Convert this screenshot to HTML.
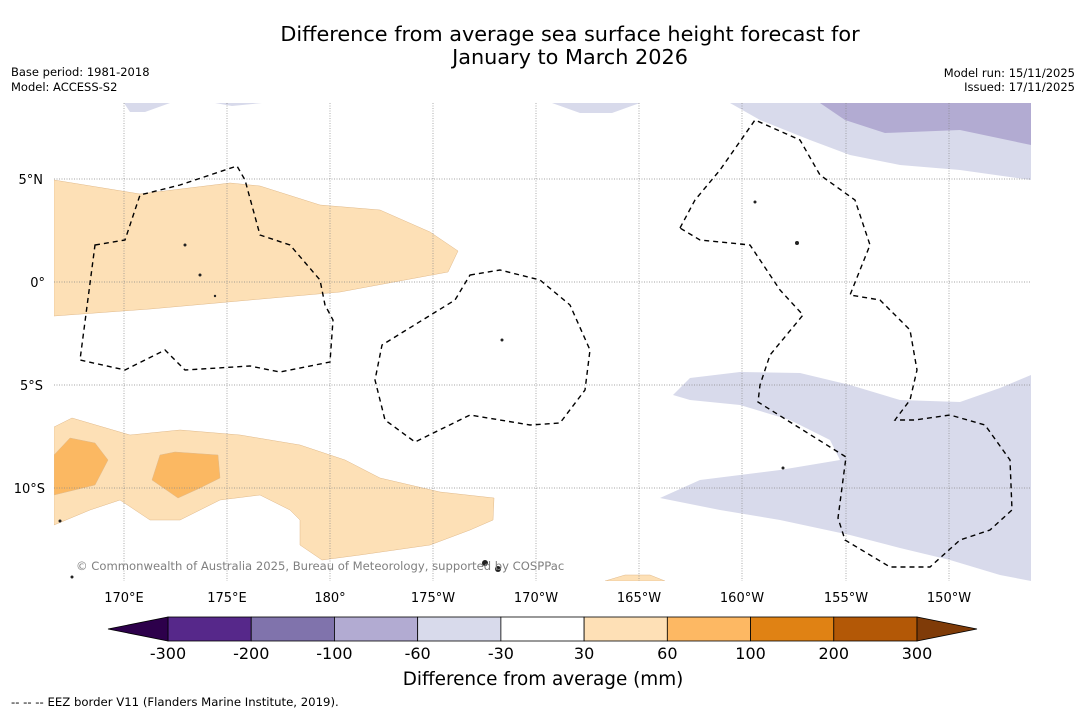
<!DOCTYPE html>
<html><head><meta charset="utf-8"><style>
body{margin:0;background:#fff;font-family:"DejaVu Sans",sans-serif}
svg{display:block}
</style></head><body>
<svg width="1085" height="713" xmlns="http://www.w3.org/2000/svg" font-family="DejaVu Sans, sans-serif">
<text x="570" y="41" font-size="20.8" text-anchor="middle">Difference from average sea surface height forecast for</text>
<text x="570" y="64" font-size="20.8" text-anchor="middle">January to March 2026</text>
<text x="11" y="76" font-size="11.5">Base period: 1981-2018</text>
<text x="11" y="91" font-size="11.5">Model: ACCESS-S2</text>
<text x="1075" y="77" font-size="11.5" text-anchor="end">Model run: 15/11/2025</text>
<text x="1075" y="91" font-size="11.5" text-anchor="end">Issued: 17/11/2025</text>

<g>
<rect x="54" y="103" width="977" height="478" fill="#fff"/>
<clipPath id="mc"><rect x="54" y="103" width="977" height="478"/></clipPath>
<g clip-path="url(#mc)" stroke="#e0b98a" stroke-width="0.5">
<polygon fill="#fde0b6" points="54,180 140,194 230,183 260,186 320,205 380,210 430,232 458,251 448,272 340,292 250,300 150,309 54,316"/>
<polygon fill="#fde0b6" points="54,427 72,418 130,435 180,430 240,435 300,445 345,460 380,478 440,492 494,498 493,520 470,530 430,545 360,555 322,560 300,545 300,520 290,510 260,495 220,500 180,520 150,520 120,500 90,510 54,525"/>
<polygon fill="#fbb862" points="54,455 70,438 95,443 108,460 95,485 54,495"/>
<polygon fill="#fbb862" points="160,455 175,452 218,455 220,478 200,488 178,498 152,480"/>
<polygon fill="#fde0b6" points="605,581 625,575 650,575 665,581"/>
</g>
<g clip-path="url(#mc)" stroke="none">
<polygon fill="#d8daeb" points="124,103 130,112 145,112 170,103"/>
<polygon fill="#d8daeb" points="215,103 232,106 262,103"/>
<polygon fill="#d8daeb" points="552,103 580,113 612,113 640,103"/>
<polygon fill="#d8daeb" points="730,103 760,120 810,140 850,155 900,165 960,170 1031,180 1031,103"/>
<polygon fill="#b2abd2" points="820,103 845,120 885,133 960,130 1031,145 1031,103"/>
<polygon fill="#d8daeb" points="673,395 690,378 740,372 800,373 850,385 900,400 960,402 1000,388 1031,375 1031,581 1000,575 950,560 900,548 850,535 780,520 720,510 660,498 700,480 780,470 840,460 830,440 790,420 740,405 690,400"/>
</g>
<g stroke="#888" stroke-width="0.7" stroke-dasharray="1,1.5">
<line x1="124" y1="103" x2="124" y2="581"/><line x1="227" y1="103" x2="227" y2="581"/><line x1="330" y1="103" x2="330" y2="581"/><line x1="433" y1="103" x2="433" y2="581"/><line x1="536" y1="103" x2="536" y2="581"/><line x1="639" y1="103" x2="639" y2="581"/><line x1="742" y1="103" x2="742" y2="581"/><line x1="846" y1="103" x2="846" y2="581"/><line x1="949" y1="103" x2="949" y2="581"/>
<line x1="54" y1="179" x2="1031" y2="179"/><line x1="54" y1="282" x2="1031" y2="282"/><line x1="54" y1="385" x2="1031" y2="385"/><line x1="54" y1="488" x2="1031" y2="488"/>
</g>
<g fill="none" stroke="#000" stroke-width="1.4" stroke-dasharray="5,4" clip-path="url(#mc)">
<polygon points="95,245 125,240 140,195 180,185 237,166 245,180 260,235 290,245 320,280 325,305 333,320 330,362 280,372 250,366 185,370 165,350 125,370 80,360"/>
<polygon points="470,275 500,270 540,280 570,305 590,350 585,390 560,423 530,425 470,415 415,442 385,420 375,380 382,345 455,300"/>
<polygon points="680,228 695,200 720,170 755,120 800,140 820,175 855,200 870,245 850,295 880,300 910,330 917,370 910,400 895,420 915,420 950,415 985,425 1010,460 1012,510 990,530 960,540 930,567 890,567 845,540 838,518 846,457 758,402 760,385 770,355 803,315 780,290 750,245 700,240"/>
</g>
<g fill="#222">
<circle cx="185" cy="245" r="1.5"/><circle cx="200" cy="275" r="1.5"/><circle cx="215" cy="296" r="1.2"/><circle cx="502" cy="340" r="1.5"/><circle cx="755" cy="202" r="1.5"/><circle cx="797" cy="243" r="2"/><circle cx="783" cy="468" r="1.5"/><circle cx="485" cy="563" r="3"/><circle cx="498" cy="569" r="3"/><circle cx="60" cy="521" r="1.5"/><circle cx="72" cy="577" r="1.5"/>
</g>
<text x="76" y="570" font-size="11.6" fill="#808080">© Commonwealth of Australia 2025, Bureau of Meteorology, supported by COSPPac</text>
</g>

<g font-size="13" text-anchor="end">
<text x="43" y="184">5°N</text><text x="45" y="287">0°</text><text x="43" y="390">5°S</text><text x="45" y="493">10°S</text>
</g>
<g font-size="13" text-anchor="middle">
<text x="124" y="602">170°E</text><text x="227" y="602">175°E</text><text x="330" y="602">180°</text><text x="433" y="602">175°W</text><text x="536" y="602">170°W</text><text x="639" y="602">165°W</text><text x="742" y="602">160°W</text><text x="846" y="602">155°W</text><text x="949" y="602">150°W</text>
</g>

<g id="cbar"></g>
<text x="543" y="685" font-size="18.4" text-anchor="middle">Difference from average (mm)</text>
<text x="11" y="706" font-size="11.7">--  --  -- EEZ border V11 (Flanders Marine Institute, 2019).</text>
</svg>
<script>
const levels = [-300,-200,-100,-60,-30,30,60,100,200,300];
const colors = ["#56288a","#8073ac","#b2abd2","#d8daeb","#ffffff","#fee0b6","#fdb863","#e08214","#b35806"];
const extendColors = ["#2d004b","#7f3b08"];
const NS="http://www.w3.org/2000/svg";
const g=document.getElementById('cbar');
const x0=168,x1=917,y0=617,h=24;
const sx=i=>x0+(x1-x0)*i/(levels.length-1);
function mk(t,a){const e=document.createElementNS(NS,t);for(const k in a)e.setAttribute(k,a[k]);g.appendChild(e);return e;}
colors.forEach((c,i)=>{
 const r=mk('rect',{x:sx(i),y:y0,width:sx(i+1)-sx(i),height:h,fill:c,stroke:'#000','stroke-width':0.8});
 
 
});
const l=mk('polygon',{points:`${x0},${y0} ${x0},${y0+h} 108,${y0+h/2}`,fill:extendColors[0],stroke:'#000','stroke-width':0.8});


const r=mk('polygon',{points:`${x1},${y0} ${x1},${y0+h} 977,${y0+h/2}`,fill:extendColors[1],stroke:'#000','stroke-width':0.8});


levels.forEach((v,i)=>{
 const t=mk('text',{x:sx(i),y:659,'font-size':16,'text-anchor':'middle'});
 t.textContent=v;
 
 
});
</script>
</body></html>
